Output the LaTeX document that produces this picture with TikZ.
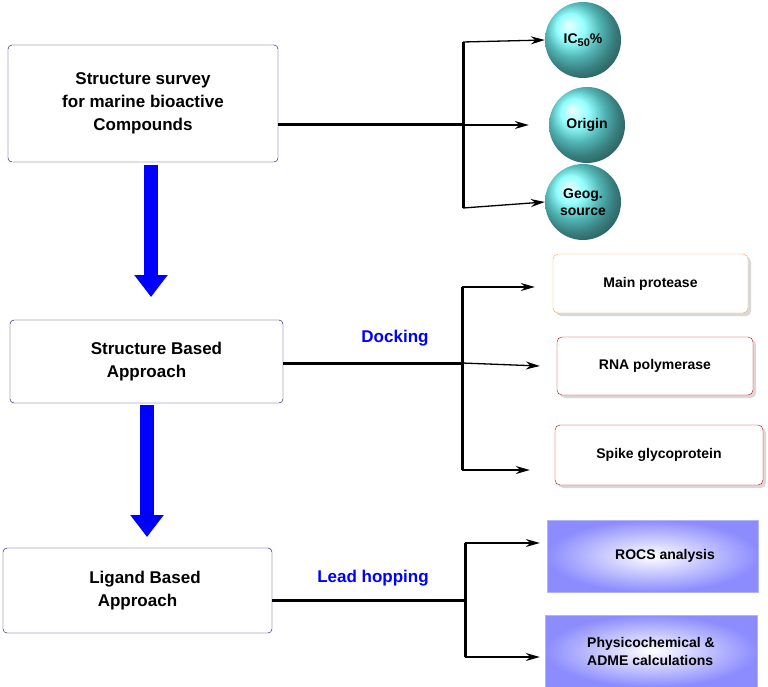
\documentclass[tikz,border=0pt]{standalone}
\usepackage{fontspec}
\setmainfont{Liberation Sans}
\usetikzlibrary{arrows.meta,shadows}
\begin{document}
\begin{tikzpicture}[x=1pt,y=-1pt]
	\tikzstyle{stage}=[draw=blue!40!black,rounded corners=4pt,align=center,font=\fontsize{17}{23}\selectfont\bfseries]
	\tikzstyle{ball}=[circle,minimum size=76pt,inner sep=0pt,ball color=cyan!55,align=center,font=\fontsize{14}{17}\selectfont\bfseries]
	\tikzstyle{target}=[draw=red!80!black,fill=white,rounded corners=5pt,drop shadow={gray!60,shadow xshift=3pt,shadow yshift=-3pt},font=\fontsize{14}{17}\selectfont\bfseries]
	\tikzstyle{calc}=[draw=blue!30,inner color=white,outer color=blue!45,align=left,font=\fontsize{14}{18}\selectfont\bfseries]
	\tikzstyle{bus}=[line width=3pt]
	\tikzstyle{branch}=[line width=1.3pt,-{Stealth[length=14pt,width=8pt]}]
	\tikzstyle{flow}=[blue,line width=14pt,-{Triangle[width=32pt,length=22pt]}]
	\tikzstyle{tag}=[text=blue,font=\fontsize{17}{20}\selectfont\bfseries]
	\useasboundingbox (0,0) rectangle (768,687);
	% left column
	\node[stage,minimum width=270pt,minimum height=117pt](survey) at (143,103.5){Structure survey\\for marine bioactive\\Compounds};
	\node[stage,minimum width=273pt,minimum height=83pt](sba) at (146.5,361.5){\hspace{20pt}Structure Based\\Approach};
	\node[stage,minimum width=269pt,minimum height=85pt](lba) at (137.5,590.5){\hspace{15pt}Ligand Based\\Approach};
	\coordinate (a1) at (151,165); \coordinate (a2) at (151,297);
	\coordinate (b1) at (147,405); \coordinate (b2) at (147,537);
	\draw[flow] (a1) -- (a2);
	\draw[flow] (b1) -- (b2);
	% properties
	\node[ball](ic) at (583,40){IC\raisebox{-3pt}{\fontsize{11}{11}\selectfont 50}\%};
	\node[ball](orig) at (587,125){Origin};
	\node[ball](geo) at (583,202){Geog.\\source};
	\coordinate (j1) at (463,125);
	\coordinate (j1t) at (463,42); \coordinate (j1b) at (463,208);
	\draw[bus] (survey.east |- j1) -- (j1);
	\draw[bus] (j1t) -- (j1b);
	\draw[branch] (j1t) -- (ic.west);
	\draw[branch] (j1) -- ([xshift=-20pt]orig.west);
	\draw[branch] (j1b) -- (geo.west);
	% docking targets
	\node[target,draw=orange!70,minimum width=195pt,minimum height=59pt](mpro) at (650.5,283.5){Main protease};
	\node[target,minimum width=196pt,minimum height=58pt](rdrp) at (655,366){RNA polymerase};
	\node[target,minimum width=208pt,minimum height=60pt](spike) at (659,455){Spike glycoprotein};
	\coordinate (j2) at (462,363);
	\coordinate (j2t) at (462,287); \coordinate (j2b) at (462,470);
	\draw[bus] (sba.east |- j2) -- (j2);
	\draw[bus] (j2t) -- (j2b);
	\draw[branch] (j2t) -- ([xshift=-18pt]mpro.west |- j2t);
	\draw[branch] (j2) -- ([xshift=-17pt]rdrp.west);
	\draw[branch] (j2b) -- ([xshift=-25pt]spike.west |- j2b);
	\node[tag](dock) at (395,338){Docking};
	% ligand based
	\node[calc,minimum width=211pt,minimum height=72pt](rocs) at (652.5,556){\hspace{25pt}ROCS analysis};
	\node[calc,minimum width=212pt,minimum height=72pt,inner sep=1pt](adme) at (651,651){Physicochemical \&\\ADME calculations};
	\coordinate (j3) at (465,600);
	\coordinate (j3t) at (465,543); \coordinate (j3b) at (465,657);
	\draw[bus] (lba.east |- j3) -- (j3);
	\draw[bus] (j3t) -- (j3b);
	\draw[branch] (j3t) -- ([xshift=-7pt]rocs.west |- j3t);
	\draw[branch] (j3b) -- ([xshift=-5pt]adme.west |- j3b);
	\node[tag](lead) at (373,578){Lead hopping};
\end{tikzpicture}
\end{document}
